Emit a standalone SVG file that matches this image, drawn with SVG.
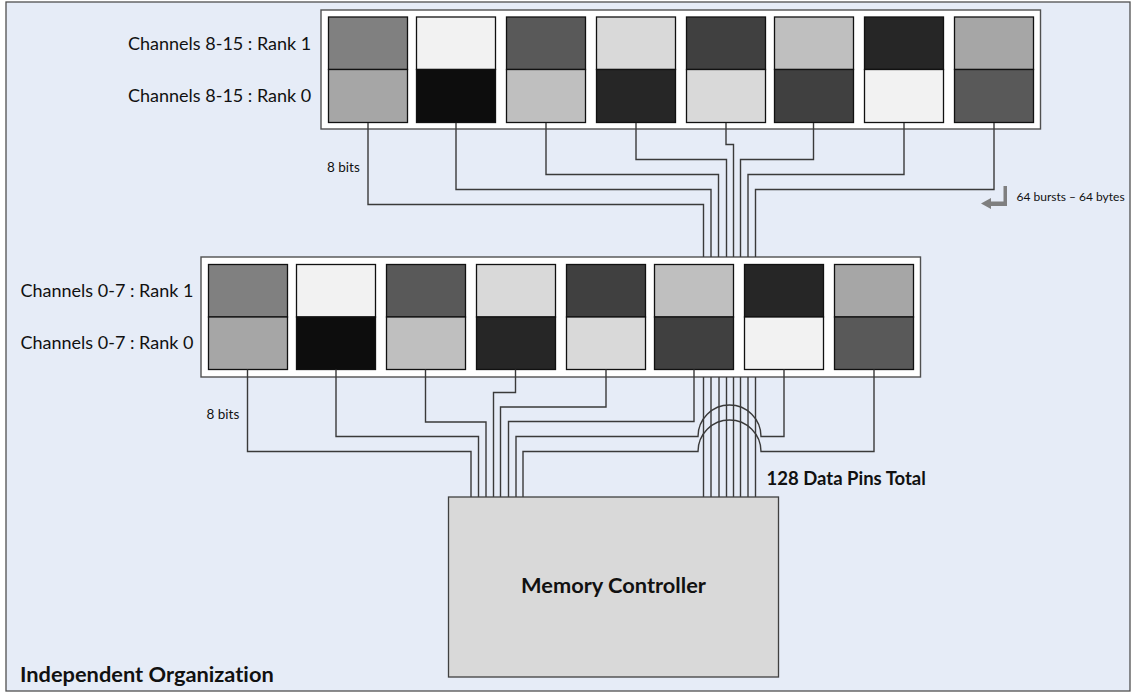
<svg xmlns="http://www.w3.org/2000/svg" width="1133" height="692" viewBox="0 0 1133 692">
<style>
text{font-family:Lato,"Open Sans","Liberation Sans",sans-serif;fill:#111;font-variant-ligatures:none}
.lab{font-size:18px}
.small{font-size:12px}
.bits{font-size:13.5px}
.b{font-weight:700}
.frame{fill:#fff;stroke:#505050;stroke-width:1.4}
.cell{stroke:#111;stroke-width:1.3}
.wire{fill:none;stroke:#3a3a3a;stroke-width:1.4}
</style>
<rect id="panel" x="6" y="2" width="1124" height="689" fill="#e6ecf7" stroke="#505050" stroke-width="1.3"/>
<g id="frame-upper"><rect class="frame" x="321" y="10" width="719.500" height="119"/></g>
<g id="frame-lower"><rect class="frame" x="201" y="257" width="719.500" height="120"/></g>
<g id="upper-ch8"><rect class="cell" x="328.5" y="17" width="79" height="52.500" fill="#808080"/><rect class="cell" x="328.5" y="69.500" width="79" height="53" fill="#a6a6a6"/></g>
<g id="upper-ch9"><rect class="cell" x="416.500" y="17" width="79" height="52.500" fill="#f2f2f2"/><rect class="cell" x="416.500" y="69.500" width="79" height="53" fill="#0d0d0d"/></g>
<g id="upper-ch10"><rect class="cell" x="506.5" y="17" width="79" height="52.500" fill="#595959"/><rect class="cell" x="506.5" y="69.500" width="79" height="53" fill="#bfbfbf"/></g>
<g id="upper-ch11"><rect class="cell" x="596.5" y="17" width="79" height="52.500" fill="#d9d9d9"/><rect class="cell" x="596.5" y="69.500" width="79" height="53" fill="#262626"/></g>
<g id="upper-ch12"><rect class="cell" x="686.5" y="17" width="79" height="52.500" fill="#404040"/><rect class="cell" x="686.5" y="69.500" width="79" height="53" fill="#d9d9d9"/></g>
<g id="upper-ch13"><rect class="cell" x="774.5" y="17" width="79" height="52.500" fill="#bfbfbf"/><rect class="cell" x="774.5" y="69.500" width="79" height="53" fill="#404040"/></g>
<g id="upper-ch14"><rect class="cell" x="864.5" y="17" width="79" height="52.500" fill="#262626"/><rect class="cell" x="864.5" y="69.500" width="79" height="53" fill="#f2f2f2"/></g>
<g id="upper-ch15"><rect class="cell" x="954.5" y="17" width="79" height="52.500" fill="#a6a6a6"/><rect class="cell" x="954.5" y="69.500" width="79" height="53" fill="#595959"/></g>
<g id="lower-ch0"><rect class="cell" x="208.5" y="264.5" width="79" height="52.500" fill="#808080"/><rect class="cell" x="208.5" y="317" width="79" height="52.500" fill="#a6a6a6"/></g>
<g id="lower-ch1"><rect class="cell" x="296.5" y="264.5" width="79" height="52.500" fill="#f2f2f2"/><rect class="cell" x="296.5" y="317" width="79" height="52.500" fill="#0d0d0d"/></g>
<g id="lower-ch2"><rect class="cell" x="386.5" y="264.5" width="79" height="52.500" fill="#595959"/><rect class="cell" x="386.5" y="317" width="79" height="52.500" fill="#bfbfbf"/></g>
<g id="lower-ch3"><rect class="cell" x="476.5" y="264.5" width="79" height="52.500" fill="#d9d9d9"/><rect class="cell" x="476.5" y="317" width="79" height="52.500" fill="#262626"/></g>
<g id="lower-ch4"><rect class="cell" x="566.5" y="264.5" width="79" height="52.500" fill="#404040"/><rect class="cell" x="566.5" y="317" width="79" height="52.500" fill="#d9d9d9"/></g>
<g id="lower-ch5"><rect class="cell" x="654.5" y="264.5" width="79" height="52.500" fill="#bfbfbf"/><rect class="cell" x="654.5" y="317" width="79" height="52.500" fill="#404040"/></g>
<g id="lower-ch6"><rect class="cell" x="744.5" y="264.5" width="79" height="52.500" fill="#262626"/><rect class="cell" x="744.5" y="317" width="79" height="52.500" fill="#f2f2f2"/></g>
<g id="lower-ch7"><rect class="cell" x="834.5" y="264.5" width="79" height="52.500" fill="#a6a6a6"/><rect class="cell" x="834.5" y="317" width="79" height="52.500" fill="#595959"/></g>
<g id="connectors">
<path class="wire" d="M368 123V204.500H703.500V257"/>
<path class="wire" d="M456 123V189.500H711V257"/>
<path class="wire" d="M546 123V174.500H718.500V257"/>
<path class="wire" d="M636 123V159.500H726.500V257"/>
<path class="wire" d="M726 123V144.500H733.500V257"/>
<path class="wire" d="M813.500 123V159.500H740.500V257"/>
<path class="wire" d="M904 123V174.500H748V257"/>
<path class="wire" d="M994 123V189.500H755.500V257"/>
<path class="wire" d="M703.500 377V497M711 377V497M719 377V497M726.500 377V497M733.500 377V497M740.500 377V497M748 377V497M755.500 377V497"/>
<path class="wire" d="M247.500 369.500V451.500H471V497"/>
<path class="wire" d="M336 369.500V436.500H478.500V497"/>
<path class="wire" d="M425.500 369.500V422H486V497"/>
<path class="wire" d="M515.500 369.500V392.500H493.500V497"/>
<path class="wire" d="M606 369.500V407H500.500V497"/>
<path class="wire" d="M694 369.500V421.500H508.500V497"/>
<path class="wire" d="M784 369.500V436.500H761A31.500 31.500 0 0 0 698 436.500H516V497"/>
<path class="wire" d="M874 369.500V451.500H761A31.500 31.500 0 0 0 698 451.500H523V497"/>
</g>
<g id="memory-controller"><rect x="448.500" y="497" width="330" height="180" fill="#d9d9d9" stroke="#404040" stroke-width="1.3"/><text class="b" x="613.500" y="593" text-anchor="middle" font-size="21.800">Memory Controller</text></g>
<g id="burst-arrow"><polygon points="1003.500,186 1007,186 1007,206 991,206 991,209 981,203.500 991,198 991,201.500 1003.500,201.500" fill="#7f7f7f"/></g>
<text class="lab" x="128" y="50">Channels 8-15 : Rank 1</text>
<text class="lab" x="128" y="102">Channels 8-15 : Rank 0</text>
<text class="lab" x="20.500" y="296.500">Channels 0-7 : Rank 1</text>
<text class="lab" x="20.500" y="348.500">Channels 0-7 : Rank 0</text>
<text class="bits" x="327" y="172">8 bits</text>
<text class="bits" x="206.500" y="419">8 bits</text>
<text class="small" x="1016.500" y="200.500">64 bursts – 64 bytes</text>
<text class="b" x="766.500" y="485" font-size="18.500">128 Data Pins Total</text>
<text class="b" x="20" y="681.500" font-size="21.800">Independent Organization</text>
</svg>
